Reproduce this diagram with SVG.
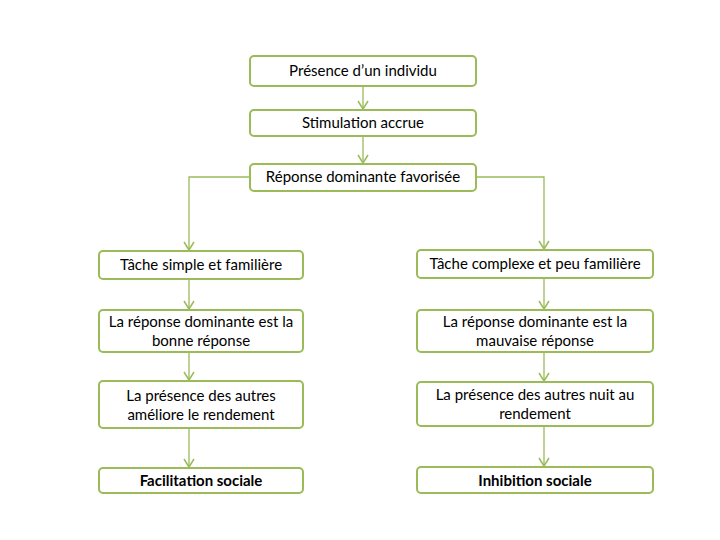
<svg xmlns="http://www.w3.org/2000/svg" width="720" height="540" viewBox="0 0 720 540">
<defs>
<marker id="arr" markerWidth="12" markerHeight="12" refX="10" refY="6" orient="auto" markerUnits="userSpaceOnUse">
<path d="M2,1 L10,6 L2,11" fill="none" stroke="#9bbb59" stroke-width="1.5"/>
</marker>
<style>
.box{fill:#ffffff;stroke:#9bbb59;stroke-width:2}
.t{font-family:Lato,"Liberation Sans",sans-serif;font-size:15px;fill:#000;text-anchor:middle}
.b{font-weight:bold}
.c{fill:none;stroke:#9bbb59;stroke-width:1.3;marker-end:url(#arr)}
</style>
</defs>
<rect width="720" height="540" fill="#fff"/>
<g id="connectors">
<path class="c" d="M363,86 V109"/>
<path class="c" d="M363,136 V163"/>
<path class="c" d="M250,177 H189 V250"/>
<path class="c" d="M476,177 H544 V249"/>
<path class="c" d="M189,279 V309"/>
<path class="c" d="M189,352 V380"/>
<path class="c" d="M189,428 V467"/>
<path class="c" d="M544,278 V309"/>
<path class="c" d="M544,352 V381"/>
<path class="c" d="M544,426 V466"/>
</g>
<g id="n1"><rect class="box" x="250" y="56" width="226" height="30" rx="4"/><text class="t" x="363" y="76">Présence d’un individu</text></g>
<g id="n2"><rect class="box" x="250" y="110" width="226" height="26" rx="4"/><text class="t" x="363" y="128">Stimulation accrue</text></g>
<g id="n3"><rect class="box" x="250" y="164" width="226" height="27" rx="4"/><text class="t" x="363" y="182">Réponse dominante favorisée</text></g>
<g id="l1"><rect class="box" x="99" y="251" width="204" height="28" rx="4"/><text class="t" x="201" y="270">Tâche simple et familière</text></g>
<g id="l2"><rect class="box" x="99" y="310" width="204" height="42" rx="4"/><text class="t" x="201" y="327">La réponse dominante est la</text><text class="t" x="201" y="346">bonne réponse</text></g>
<g id="l3"><rect class="box" x="99" y="381" width="204" height="47" rx="4"/><text class="t" x="201" y="401">La présence des autres</text><text class="t" x="201" y="420">améliore le rendement</text></g>
<g id="l4"><rect class="box" x="99" y="468" width="204" height="25" rx="4"/><text class="t b" x="201" y="486">Facilitation sociale</text></g>
<g id="r1"><rect class="box" x="417" y="250" width="236" height="28" rx="4"/><text class="t" x="535" y="269">Tâche complexe et peu familière</text></g>
<g id="r2"><rect class="box" x="417" y="310" width="236" height="42" rx="4"/><text class="t" x="535" y="327">La réponse dominante est la</text><text class="t" x="535" y="346">mauvaise réponse</text></g>
<g id="r3"><rect class="box" x="417" y="382" width="236" height="44" rx="4"/><text class="t" x="535" y="400">La présence des autres nuit au</text><text class="t" x="535" y="419">rendement</text></g>
<g id="r4"><rect class="box" x="417" y="467" width="236" height="26" rx="4"/><text class="t b" x="535" y="486">Inhibition sociale</text></g>
</svg>
